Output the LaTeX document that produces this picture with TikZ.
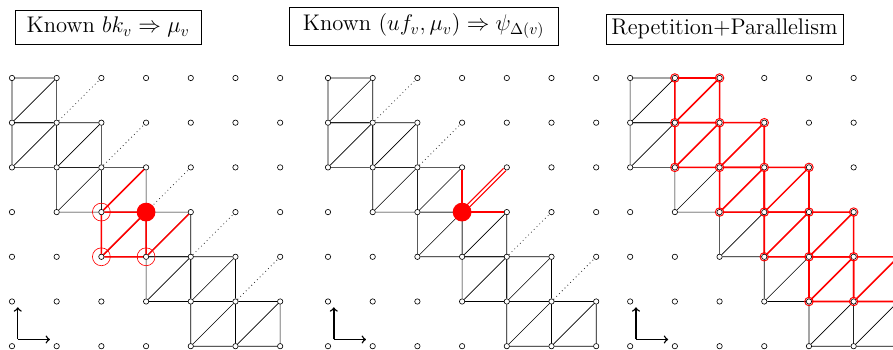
\documentclass[tikz,border=0pt]{standalone}
\usepackage{amsmath}
\begin{document}
\begin{tikzpicture}[
	title/.style={draw, font=\Large, inner sep=2pt},
	dot/.style={circle, draw, fill=white, inner sep=0pt, minimum size=1.2mm},
	ring/.style={circle, draw=red, inner sep=0pt, minimum size=4mm},
	smallring/.style={circle, draw=red, line width=0.6pt, inner sep=0pt, minimum size=1.9mm},
	hit/.style={circle, fill=red, inner sep=0pt, minimum size=4.2mm},
	hot/.style={red, line width=1pt},
	twin/.style={draw=red, double=white, line width=0.8pt, double distance=1.2pt},
	hint/.style={dotted, black!85, line width=0.5pt},
	axis/.style={->, line width=0.9pt}
	]
	\useasboundingbox (-0.268,-6.067) rectangle (19.71,1.745);
	
	% grids, titles and axes of the three panels
	\foreach \p/\x in {A/0,B/7.07,C/13.83} {
		\foreach \c in {0,...,6}
			\foreach \r in {0,...,6}
				\node[dot] (\p-\c-\r) at (\x+\c,-\r) {};
		\coordinate (\p-o) at (\x+0.13,-5.85);
		\coordinate (\p-up) at (\x+0.13,-5.13);
		\coordinate (\p-right) at (\x+0.85,-5.85);
		\draw[axis] (\p-o) -- (\p-up);
		\draw[axis] (\p-o) -- (\p-right);
	}
	\node[title, minimum width=4.16cm, minimum height=0.76cm] (titleA) at (2.15,1.14) {Known $bk_v \Rightarrow \mu_v$};
	\node[title, minimum width=6.02cm, minimum height=0.85cm] (titleB) at (9.21,1.16) {Known $(uf_v,\mu_v) \Rightarrow \psi_{\Delta(v)}$};
	\node[title, minimum width=5.3cm, minimum height=0.69cm] (titleC) at (15.94,1.09) {Repetition+Parallelism};
	
	% staircase of cells in the first two panels
	\foreach \p in {A,B} {
		\foreach \c/\r in {0/0,0/1,1/1,1/2,2/2,2/3,3/3,3/4,4/4,4/5,5/5} {
			\pgfmathtruncatemacro{\cc}{\c+1}
			\pgfmathtruncatemacro{\rr}{\r+1}
			\draw (\p-\c-\r) -- (\p-\cc-\r) -- (\p-\cc-\rr) -- (\p-\c-\rr) -- (\p-\c-\r) (\p-\c-\rr) -- (\p-\cc-\r);
		}
	}
	
	% Known bk_v
	\foreach \c [evaluate=\c as \cc using int(\c+1), evaluate=\c as \rr using int(\c-1)] in {1,...,5}
		\draw[hint] (A-\c-\c) -- (A-\cc-\rr);
	\draw[hot] (A-2-3) -- (A-3-2) (A-2-3) -- (A-3-3) -- (A-3-4) -- (A-2-4) -- (A-2-3) (A-2-4) -- (A-3-3) (A-3-4) -- (A-4-3);
	\foreach \v in {2-3,2-4,3-4}
		\node[ring] (A-ring-\v) at (A-\v) {};
	\node[hit] (A-hit) at (A-3-3) {};
	
	% Known (uf_v, mu_v)
	\foreach \c [evaluate=\c as \cc using int(\c+1), evaluate=\c as \rr using int(\c-1)] in {1,2,4,5}
		\draw[hint] (B-\c-\c) -- (B-\cc-\rr);
	\draw[hot] (B-3-2) -- (B-3-3) -- (B-4-3);
	\draw[twin] (B-3-3) -- (B-4-2);
	\node[hit] (B-hit) at (B-3-3) {};
	
	% Repetition+Parallelism
	\foreach \c/\r [evaluate=\c as \cc using int(\c+1), evaluate=\r as \rr using int(\r+1)] in {0/0,0/1,1/2,2/3,3/4,4/5,5/5}
		\draw (C-\c-\r) -- (C-\cc-\r) -- (C-\cc-\rr) -- (C-\c-\rr) -- (C-\c-\r) (C-\c-\rr) -- (C-\cc-\r);
	\foreach \c/\r [evaluate=\c as \cc using int(\c+1), evaluate=\r as \rr using int(\r+1)] in {1/0,1/1,2/1,2/2,3/2,3/3,4/3,4/4,5/4}
		\draw[hot] (C-\c-\r) -- (C-\cc-\r) -- (C-\cc-\rr) -- (C-\c-\rr) -- (C-\c-\r) (C-\c-\rr) -- (C-\cc-\r);
	\foreach \r/\a/\b in {0/1/2,1/1/3,2/1/4,3/2/5,4/3/6,5/4/6}
		\foreach \c in {\a,...,\b}
			\node[smallring] (C-ring-\c-\r) at (C-\c-\r) {};
\end{tikzpicture}
\end{document}
